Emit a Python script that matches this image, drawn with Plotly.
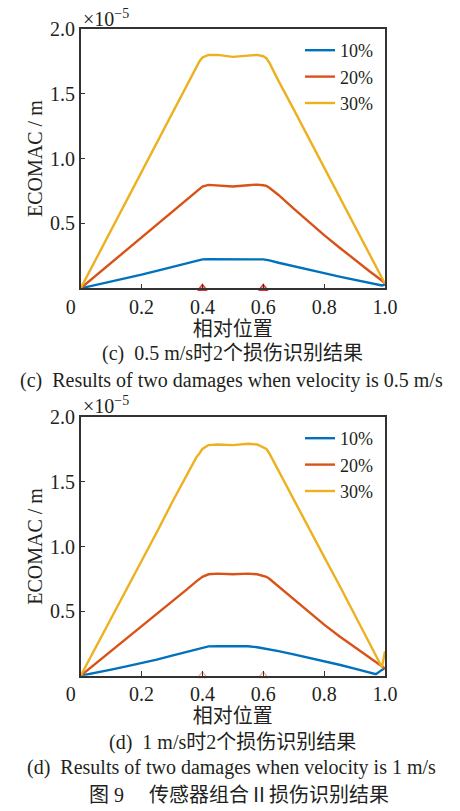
import plotly.graph_objects as go

# ---------------- data (ECOMAC in units of 1e-5 m) ----------------
x_pos = [0.0, 0.05, 0.1, 0.15, 0.2, 0.25, 0.3, 0.35, 0.38, 0.39, 0.4, 0.42, 0.45, 0.5,
         0.55, 0.58, 0.6, 0.61, 0.62, 0.65, 0.7, 0.75, 0.8, 0.85, 0.9, 0.95, 0.97, 0.99, 1.0]

c_10 = [0, .025, .05, .077, .105, .135, .165, .195, .213, .218, .223, .225, .225, .224,
        .225, .225, .223, .219, .215, .197, .172, .145, .117, .09, .065, .04, .028, .022, .03]
c_20 = [0, .098, .195, .29, .39, .49, .585, .685, .745, .765, .785, .798, .795, .785,
        .795, .80, .795, .79, .775, .72, .615, .51, .41, .315, .22, .13, .095, .055, .04]
c_30 = [0, .225, .45, .675, .90, 1.125, 1.35, 1.575, 1.71, 1.75, 1.78, 1.80, 1.80, 1.785,
        1.795, 1.80, 1.79, 1.775, 1.74, 1.60, 1.38, 1.155, .93, .71, .48, .26, .17, .08, .035]

d_10 = [0, .022, .047, .072, .097, .125, .155, .187, .205, .213, .22, .227, .228, .226,
        .228, .22, .212, .208, .205, .19, .165, .14, .115, .085, .055, .02, .012, .045, .06]
d_20 = [0, .095, .19, .29, .385, .48, .575, .67, .73, .75, .765, .785, .79, .785,
        .79, .785, .775, .765, .75, .69, .59, .49, .395, .305, .22, .135, .10, .07, .055]
d_30 = [0, .22, .445, .67, .89, 1.11, 1.34, 1.56, 1.69, 1.72, 1.755, 1.785, 1.79, 1.785,
        1.795, 1.79, 1.77, 1.755, 1.72, 1.585, 1.365, 1.14, .92, .70, .475, .255, .165, .065, .19]

damage_x = [0.4, 0.6]
damage_y = [0, 0]

series_names = ["10%", "20%", "30%"]
colors = ["#0072BD", "#D95319", "#EDB120"]

x_ticks = [0, 0.2, 0.4, 0.6, 0.8, 1.0]
x_ticktext = ["0\u2003", "0.2", "0.4", "0.6", "0.8", "1.0"]
y_ticks = [0.5, 1.0, 1.5, 2.0]
y_ticktext = ["0.5", "1.0", "1.5", "2.0"]

captions_top = ["(c)  0.5 m/s时2个损伤识别结果", "(c)  Results of two damages when velocity is 0.5 m/s"]
captions_bot = ["(d)  1 m/s时2个损伤识别结果", "(d)  Results of two damages when velocity is 1 m/s"]
fig_caption = "图 9\u2003 传感器组合Ⅱ损伤识别结果"

# ---------------- figure ----------------
W, H = 460, 811
SERIF = "Liberation Serif, Times New Roman, Noto Sans CJK SC, serif"
CJK = "Liberation Serif, Noto Sans CJK SC, sans-serif"
INK = "#231f20"

fig = go.Figure()

panels = [("x", "y", "legend", [c_10, c_20, c_30], "triangle-up"),
          ("x2", "y2", "legend2", [d_10, d_20, d_30], "triangle-up-open")]

for xa, ya, lg, data, sym in panels:
    for name, col, vals in zip(series_names, colors, data):
        fig.add_trace(go.Scatter(x=x_pos, y=vals, mode="lines", name=name,
                                 line=dict(color=col, width=2.4),
                                 xaxis=xa, yaxis=ya, legend=lg))
    fig.add_trace(go.Scatter(x=damage_x, y=damage_y, mode="markers", showlegend=False,
                             marker=dict(symbol=sym, size=8, color="rgba(240,90,80,0.55)",
                                         line=dict(color="#e8302a", width=1.3)),
                             cliponaxis=False, xaxis=xa, yaxis=ya))

def px_x(p):
    return p / W

def px_y(p):
    return 1 - p / H

xdom = [px_x(80.7), px_x(385)]
axis_common = dict(showline=True, linecolor="#333", linewidth=1.5, mirror=True,
                   ticks="inside", ticklen=5, tickwidth=1.3, tickcolor="#333",
                   showgrid=False, zeroline=False, automargin=False,
                   tickfont=dict(family=SERIF, size=20, color=INK))

xtitle = dict(text="相对位置", standoff=0, font=dict(family=CJK, size=20, color=INK))
ytitle = dict(text="ECOMAC / m", standoff=2, font=dict(family=SERIF, size=20, color=INK))

fig.update_layout(
    width=W, height=H, margin=dict(l=0, r=0, t=0, b=0),
    paper_bgcolor="white", plot_bgcolor="white",
    xaxis=dict(domain=xdom, anchor="y", range=[0, 1], tickvals=x_ticks, ticktext=x_ticktext,
               title=xtitle, **axis_common),
    yaxis=dict(domain=[px_y(288.3), px_y(29)], anchor="x", range=[0, 2], tickvals=y_ticks,
               ticktext=y_ticktext, title=ytitle, **axis_common),
    xaxis2=dict(domain=xdom, anchor="y2", range=[0, 1], tickvals=x_ticks, ticktext=x_ticktext,
                title=xtitle, **axis_common),
    yaxis2=dict(domain=[px_y(675.7), px_y(417.3)], anchor="x2", range=[0, 2], tickvals=y_ticks,
                ticktext=y_ticktext, title=ytitle, **axis_common),
    legend=dict(x=px_x(300), y=px_y(32), xanchor="left", yanchor="top",
                bgcolor="rgba(0,0,0,0)", font=dict(family=SERIF, size=18, color=INK),
                tracegroupgap=0),
    legend2=dict(x=px_x(300), y=px_y(420), xanchor="left", yanchor="top",
                 bgcolor="rgba(0,0,0,0)", font=dict(family=SERIF, size=18, color=INK),
                 tracegroupgap=0),
    showlegend=True,
)

annotations = [
    dict(text="×10<sup>−5</sup>", x=px_x(81), y=px_y(18), xanchor="left", yanchor="middle"),
    dict(text="×10<sup>−5</sup>", x=px_x(81), y=px_y(405), xanchor="left", yanchor="middle"),
    dict(text=captions_top[0], x=px_x(232), y=px_y(354), xanchor="center", yanchor="middle"),
    dict(text=captions_top[1], x=px_x(231), y=px_y(380), xanchor="center", yanchor="middle"),
    dict(text=captions_bot[0], x=px_x(232), y=px_y(742), xanchor="center", yanchor="middle"),
    dict(text=captions_bot[1], x=px_x(231), y=px_y(767), xanchor="center", yanchor="middle"),
    dict(text=fig_caption, x=px_x(239), y=px_y(795), xanchor="center", yanchor="middle"),
]
for a in annotations:
    a.update(xref="paper", yref="paper", showarrow=False,
             font=dict(family=CJK, size=20, color=INK))
fig.update_layout(annotations=annotations)

fig.write_html("out.html")
